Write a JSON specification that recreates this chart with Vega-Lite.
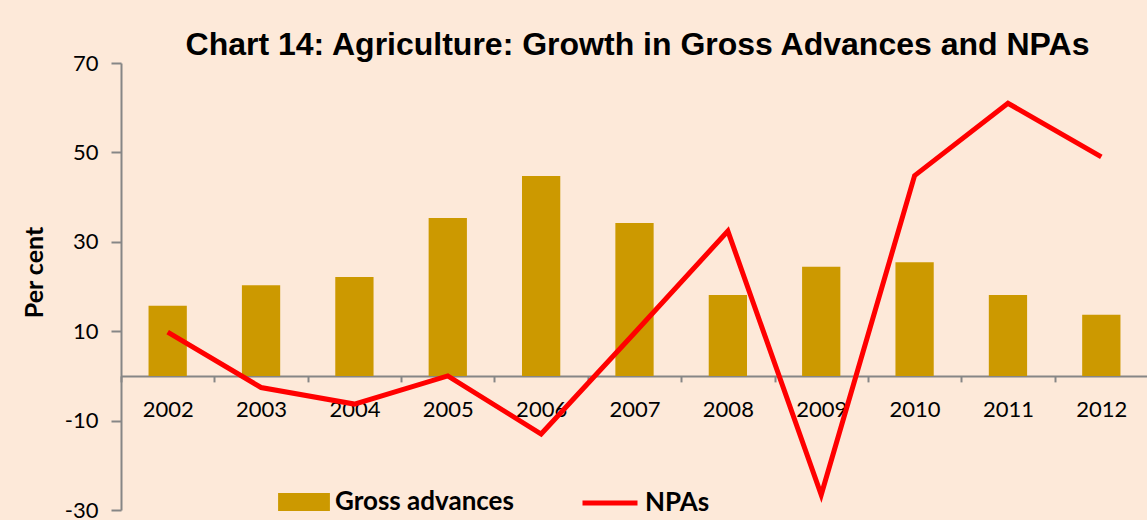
{
  "$schema": "https://vega.github.io/schema/vega-lite/v6.json",
  "width": 1027,
  "height": 447,
  "autosize": "none",
  "padding": {"left": 121, "top": 63, "right": 0, "bottom": 10},
  "background": "#FDE9D9",
  "title": {
    "text": "Chart 14: Agriculture: Growth in Gross Advances and NPAs",
    "font": "Liberation Sans",
    "fontSize": 32,
    "fontWeight": "bold",
    "color": "#000000",
    "anchor": "middle",
    "offset": 8,
    "dy": 18,
    "dx": 3
  },
  "data": {
    "values": [
      {"year": "2002", "gross": 15.7, "npa": 9.8},
      {"year": "2003", "gross": 20.3, "npa": -2.6},
      {"year": "2004", "gross": 22.1, "npa": -6.3},
      {"year": "2005", "gross": 35.3, "npa": 0.0},
      {"year": "2006", "gross": 44.7, "npa": -13.0},
      {"year": "2007", "gross": 34.2, "npa": 9.6},
      {"year": "2008", "gross": 18.1, "npa": 32.4},
      {"year": "2009", "gross": 24.4, "npa": -26.6},
      {"year": "2010", "gross": 25.4, "npa": 44.8},
      {"year": "2011", "gross": 18.1, "npa": 61.0},
      {"year": "2012", "gross": 13.7, "npa": 49.0}
    ]
  },
  "encoding": {
    "x": {
      "field": "year",
      "type": "ordinal",
      "scale": {"paddingInner": 0, "paddingOuter": 0},
      "axis": {
        "title": null,
        "offset": -134.1,
        "labelAngle": 0,
        "labelFont": "Lato",
        "labelFontSize": 22,
        "labelColor": "#000000",
        "labelPadding": 18,
        "tickBand": "extent",
        "tickSize": 6,
        "tickWidth": 2,
        "tickColor": "#868686",
        "domainColor": "#868686",
        "domainWidth": 2
      }
    }
  },
  "layer": [
    {
      "mark": {"type": "bar", "width": {"band": 0.41}},
      "encoding": {
        "y": {
          "field": "gross",
          "type": "quantitative",
          "scale": {"domain": [-30, 70], "nice": false, "zero": false},
          "axis": {
            "title": "Per cent",
            "titleFont": "Lato",
            "titleFontSize": 25,
            "titleFontWeight": "bold",
            "titleColor": "#000000",
            "titleAngle": -90,
            "titleAlign": "center",
            "titleBaseline": "alphabetic",
            "titleX": -79,
            "titleY": 209,
            "values": [-30, -10, 10, 30, 50, 70],
            "labelExpr": "datum.value + ''",
            "labelFont": "Lato",
            "labelFontSize": 22,
            "labelColor": "#000000",
            "labelPadding": 13,
            "tickSize": 10,
            "tickWidth": 2,
            "tickColor": "#868686",
            "domainColor": "#868686",
            "domainWidth": 2,
            "grid": false
          }
        },
        "fill": {
          "datum": "Gross advances",
          "scale": {"range": ["#CC9900"]},
          "legend": {
            "orient": "none",
            "legendX": 165,
            "legendY": 421,
            "padding": 0,
            "title": null,
            "symbolType": "M-1.44,-0.5H1.44V0.5H-1.44Z",
            "symbolSize": 1296,
            "symbolStrokeWidth": 0,
            "labelFont": "Lato",
            "labelFontSize": 26,
            "labelFontWeight": "bold",
            "labelColor": "#000000",
            "labelOffset": 13,
            "labelLimit": 400
          }
        }
      }
    },
    {
      "mark": {"type": "line", "strokeWidth": 5},
      "encoding": {
        "y": {"field": "npa", "type": "quantitative"},
        "stroke": {
          "datum": "NPAs",
          "scale": {"range": ["#FF0000"]},
          "legend": {
            "orient": "none",
            "legendX": 459,
            "legendY": 410,
            "padding": 0,
            "title": null,
            "symbolType": "stroke",
            "symbolSize": 3025,
            "symbolStrokeWidth": 5,
            "labelFont": "Lato",
            "labelFontSize": 26,
            "labelFontWeight": "bold",
            "labelColor": "#000000",
            "labelOffset": 5,
            "labelLimit": 400
          }
        }
      }
    }
  ],
  "config": {"view": {"stroke": null}}
}
